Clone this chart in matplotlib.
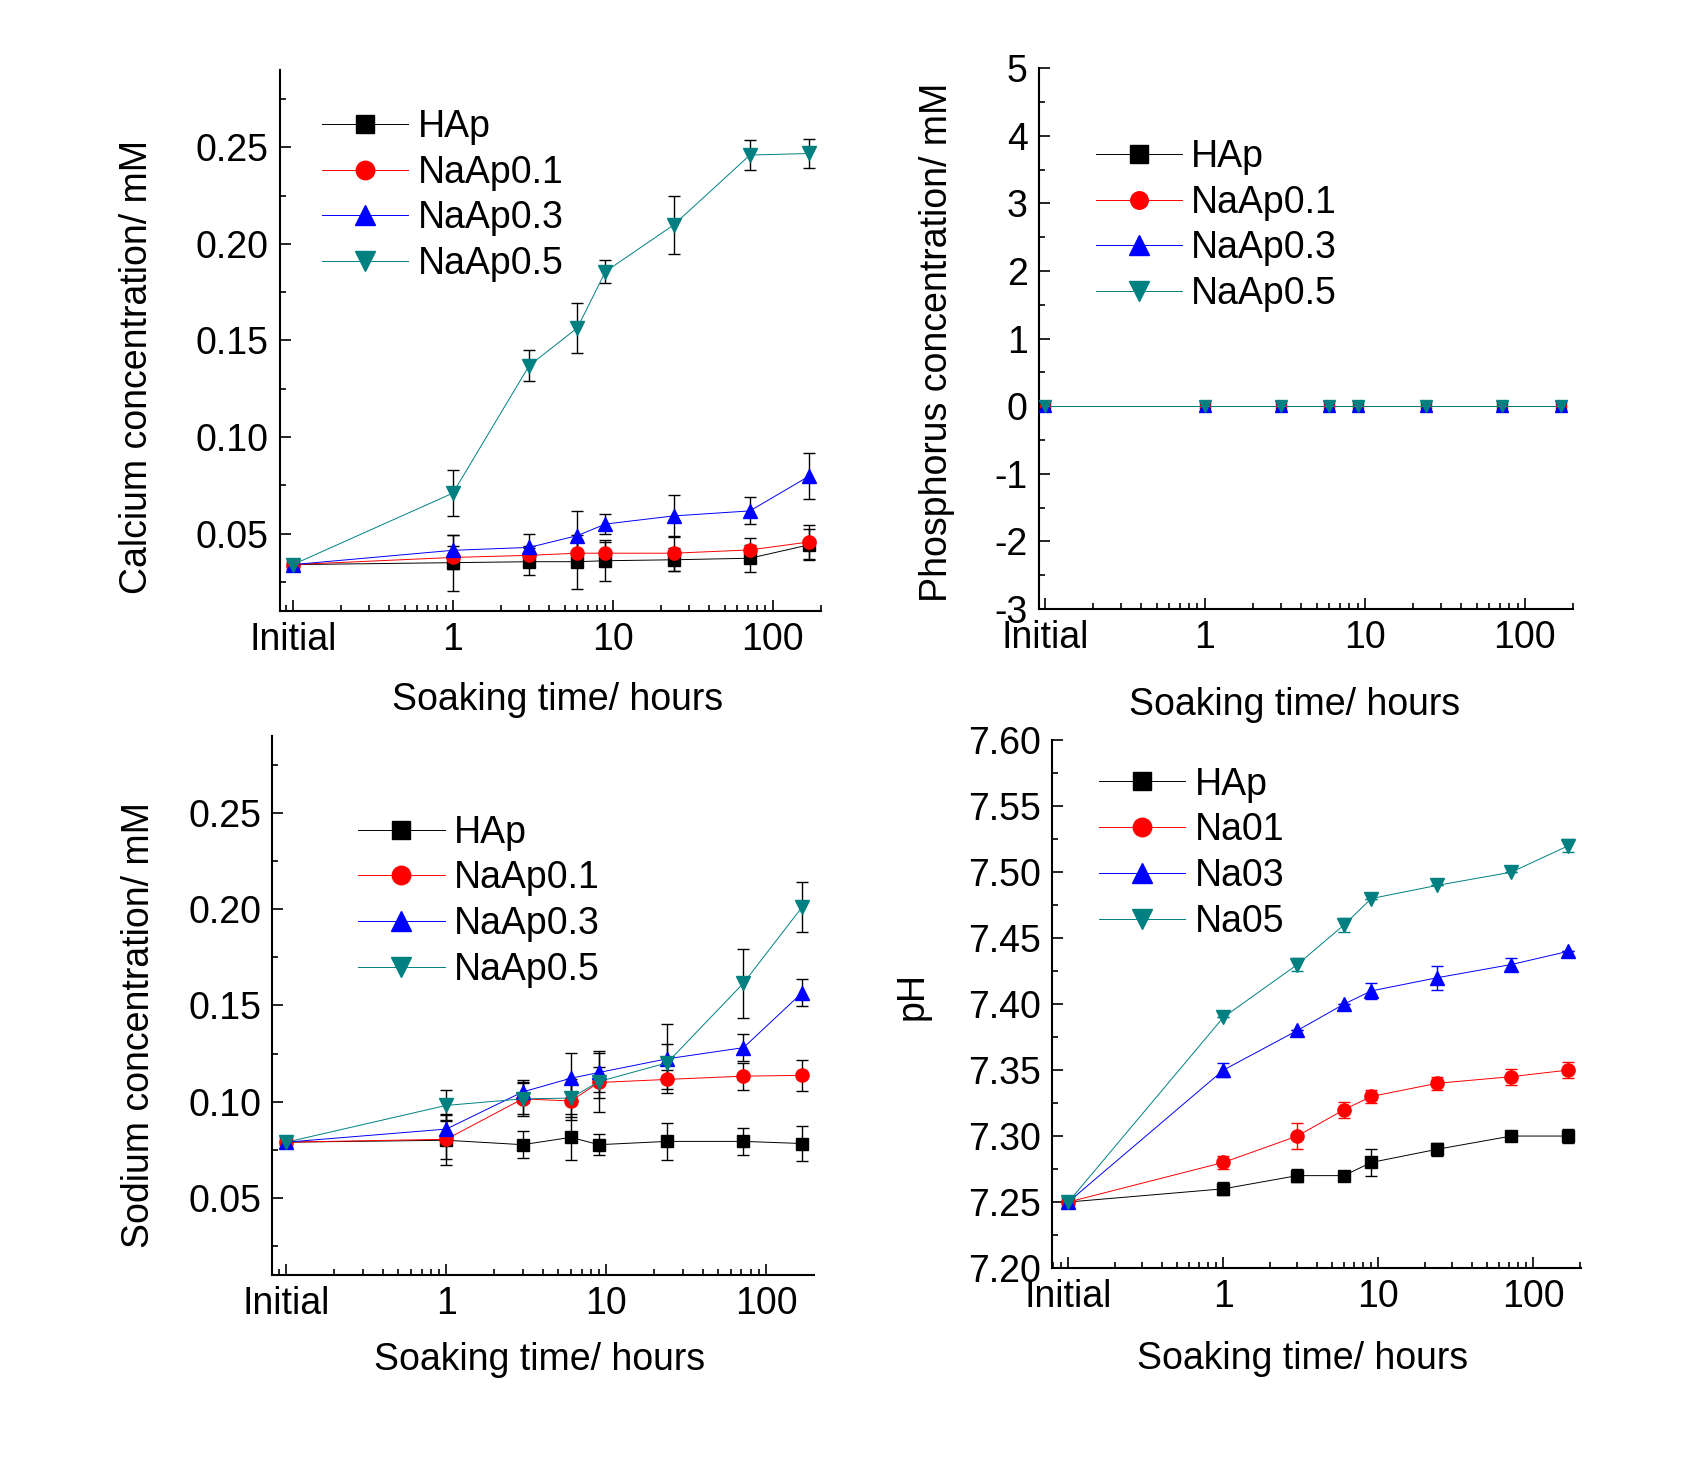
import matplotlib
matplotlib.use("Agg")
import matplotlib.pyplot as plt
from matplotlib.ticker import FixedLocator, LogLocator, MultipleLocator, FormatStrFormatter, NullFormatter

plt.rcParams['font.family'] = ['Liberation Sans', 'DejaVu Sans']
plt.rcParams['font.size'] = 27

# soaking times (hours), "Initial" drawn at 0.1
hours = [0.1, 1, 3, 6, 9, 24, 72, 168]
xtick_pos = [0.1, 1, 10, 100]
xtick_labels = ['Initial', '1', '10', '100']

names = ['HAp', 'NaAp0.1', 'NaAp0.3', 'NaAp0.5']
ph_names = ['HAp', 'Na01', 'Na03', 'Na05']
colors = ['black', 'red', 'blue', '#008080']
markers = ['s', 'o', '^', 'v']

# calcium
ca_hap = [0.034, 0.035, 0.0355, 0.0355, 0.036, 0.0365, 0.0373, 0.0442]
ca_na01 = [0.034, 0.0377, 0.0388, 0.0399, 0.0399, 0.0399, 0.0416, 0.0457]
ca_na03 = [0.034, 0.0414, 0.0429, 0.049, 0.055, 0.0592, 0.0618, 0.0797]
ca_na05 = [0.034, 0.071, 0.137, 0.1565, 0.1857, 0.2098, 0.246, 0.2468]
ca_hap_err = [0, 0.0145, 0.007, 0.014, 0.0105, 0.006, 0.007, 0.008]
ca_na01_err = [0, 0.006, 0.005, 0.007, 0.006, 0.009, 0.006, 0.009]
ca_na03_err = [0, 0.008, 0.007, 0.013, 0.005, 0.011, 0.007, 0.012]
ca_na05_err = [0, 0.012, 0.008, 0.013, 0.006, 0.015, 0.0077, 0.0077]

# phosphorus
p_hap = [0, 0, 0, 0, 0, 0, 0, 0]
p_na01 = [0, 0, 0, 0, 0, 0, 0, 0]
p_na03 = [0, 0, 0, 0, 0, 0, 0, 0]
p_na05 = [0, 0, 0, 0, 0, 0, 0, 0]

# sodium
na_hap = [0.079, 0.080, 0.0777, 0.0815, 0.0777, 0.0794, 0.0794, 0.0783]
na_na01 = [0.079, 0.0805, 0.1015, 0.1004, 0.110, 0.1116, 0.1133, 0.1137]
na_na03 = [0.079, 0.0858, 0.1051, 0.1122, 0.1152, 0.1223, 0.1281, 0.1567]
na_na05 = [0.079, 0.0981, 0.1015, 0.1019, 0.1105, 0.1202, 0.1616, 0.2013]
na_hap_err = [0, 0.013, 0.007, 0.012, 0.0055, 0.0097, 0.007, 0.009]
na_na01_err = [0, 0.01, 0.008, 0.01, 0.008, 0.005, 0.007, 0.008]
na_na03_err = [0, 0.008, 0.006, 0.013, 0.01, 0.018, 0.007, 0.007]
na_na05_err = [0, 0.008, 0.009, 0.01, 0.016, 0.01, 0.018, 0.013]

# pH
ph_hap = [7.25, 7.26, 7.27, 7.27, 7.28, 7.29, 7.30, 7.30]
ph_na01 = [7.25, 7.28, 7.30, 7.32, 7.33, 7.34, 7.345, 7.35]
ph_na03 = [7.25, 7.35, 7.38, 7.40, 7.41, 7.42, 7.43, 7.44]
ph_na05 = [7.25, 7.39, 7.43, 7.46, 7.48, 7.49, 7.50, 7.52]
ph_hap_err = [0.003, 0.005, 0.005, 0, 0.01, 0.005, 0, 0.005]
ph_na01_err = [0, 0.005, 0.01, 0.006, 0.005, 0.005, 0.006, 0.006]
ph_na03_err = [0, 0.005, 0, 0, 0.006, 0.009, 0.005, 0]
ph_na05_err = [0, 0, 0.005, 0.005, 0, 0, 0, 0.005]

fig = plt.figure(figsize=(17.01, 14.62), dpi=100)


def style_axes(ax, xlim, ylim, major, minor, fmt):
    ax.set_xscale('log')
    ax.set_xlim(*xlim)
    ax.set_ylim(*ylim)
    ax.spines['top'].set_visible(False)
    ax.spines['right'].set_visible(False)
    ax.spines['left'].set_linewidth(1.5)
    ax.spines['bottom'].set_linewidth(1.5)
    ax.xaxis.set_major_locator(FixedLocator(xtick_pos))
    ax.set_xticklabels(xtick_labels)
    ax.xaxis.set_minor_locator(LogLocator(base=10, subs=range(2, 10), numticks=20))
    ax.xaxis.set_minor_formatter(NullFormatter())
    ax.yaxis.set_major_locator(MultipleLocator(major))
    ax.yaxis.set_minor_locator(MultipleLocator(minor))
    ax.yaxis.set_major_formatter(FormatStrFormatter(fmt))
    ax.tick_params(which='major', direction='in', length=8, width=1.2, pad=8, labelsize=27)
    ax.tick_params(which='minor', direction='in', length=4.5, width=1.2)


def draw(ax, series, errs, labels, ecolors, ms):
    for i, y in enumerate(series):
        if errs is not None:
            ax.errorbar(hours, y, yerr=errs[i], fmt='none', ecolor=ecolors[i],
                        elinewidth=1, capsize=4, capthick=1, zorder=2)
        ax.plot(hours, y, color=colors[i], marker=markers[i], lw=0.7,
                ms=ms[i], label=labels[i], zorder=3)


def add_legend(ax, x, y, mscale=1.4):
    ax.legend(loc='upper left', bbox_to_anchor=(x, y), frameon=False, fontsize=27,
              borderpad=0, borderaxespad=0, labelspacing=0.26, handlelength=2.3,
              handletextpad=0.25, markerscale=mscale)


ms_main = [9, 9.5, 10.5, 10.5]
black4 = ['black'] * 4

# top left: calcium
ax1 = fig.add_axes([0.1646, 0.5821, 0.318, 0.370])
draw(ax1, [ca_hap, ca_na01, ca_na03, ca_na05],
     [ca_hap_err, ca_na01_err, ca_na03_err, ca_na05_err], names, black4, ms_main)
style_axes(ax1, (0.083, 200), (0.01, 0.29), 0.05, 0.025, '%.2f')
ax1.set_xlabel('Soaking time/ hours')
ax1.set_ylabel('Calcium concentration/ mM')
ax1.xaxis.set_label_coords(0.513, -0.132)
ax1.yaxis.set_label_coords(-0.231, 0.451)
add_legend(ax1, 0.078, 0.928)

# top right: phosphorus
ax2 = fig.add_axes([0.6108, 0.5834, 0.314, 0.370])
draw(ax2, [p_hap, p_na01, p_na03, p_na05], None, names, black4, [7, 7, 8, 8])
style_axes(ax2, (0.092, 200), (-3, 5), 1, 0.5, '%d')
ax2.set_xlabel('Soaking time/ hours')
ax2.set_ylabel('Phosphorus concentration/ mM')
ax2.xaxis.set_label_coords(0.478, -0.144)
ax2.yaxis.set_label_coords(-0.157, 0.494)
add_legend(ax2, 0.106, 0.869, mscale=1.8)

# bottom left: sodium
ax3 = fig.add_axes([0.160, 0.1279, 0.3186, 0.3687])
draw(ax3, [na_hap, na_na01, na_na03, na_na05],
     [na_hap_err, na_na01_err, na_na03_err, na_na05_err], names, black4, ms_main)
style_axes(ax3, (0.0816, 199), (0.01, 0.29), 0.05, 0.025, '%.2f')
ax3.set_xlabel('Soaking time/ hours')
ax3.set_ylabel('Sodium concentration/ mM')
ax3.xaxis.set_label_coords(0.493, -0.124)
ax3.yaxis.set_label_coords(-0.212, 0.464)
add_legend(ax3, 0.159, 0.854)

# bottom right: pH
ax4 = fig.add_axes([0.6185, 0.1327, 0.3110, 0.361])
draw(ax4, [ph_hap, ph_na01, ph_na03, ph_na05],
     [ph_hap_err, ph_na01_err, ph_na03_err, ph_na05_err], ph_names, colors, ms_main)
style_axes(ax4, (0.0785, 203), (7.20, 7.60), 0.05, 0.025, '%.2f')
ax4.set_xlabel('Soaking time/ hours')
ax4.set_ylabel('pH')
ax4.xaxis.set_label_coords(0.474, -0.138)
ax4.yaxis.set_label_coords(-0.229, 0.515)
add_legend(ax4, 0.089, 0.950)

plt.savefig('out.png', dpi=100)
